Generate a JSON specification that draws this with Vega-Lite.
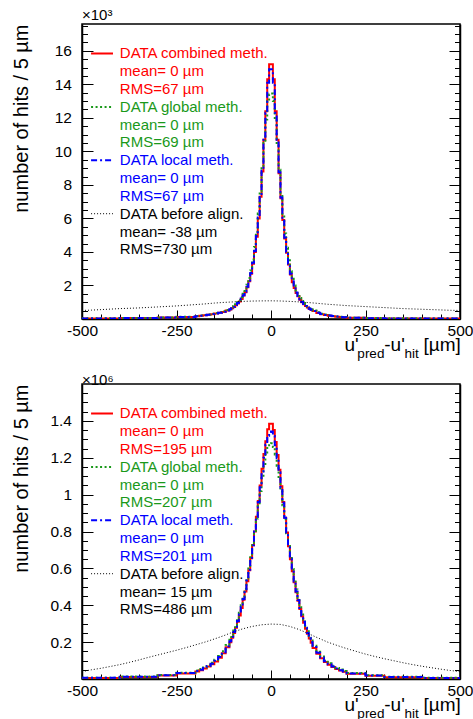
{
  "$schema": "https://vega.github.io/schema/vega-lite/v6.json",
  "background": "white",
  "padding": {"left": 10, "top": 6, "right": 5, "bottom": 5},
  "spacing": 65,
  "bounds": "flush",
  "config": {
    "view": {"stroke": "black", "strokeWidth": 1.5},
    "font": "Liberation Sans",
    "axis": {"grid": false, "domainColor": "black", "domainWidth": 1.5, "tickColor": "black", "tickWidth": 1, "labelColor": "black", "titleColor": "black", "labelFont": "Liberation Sans", "titleFont": "Liberation Sans", "labelFontSize": 15.5, "titleFontWeight": "normal", "labelOverlap": false, "labelFlush": false, "labelBound": false},
    "title": {"font": "Liberation Sans", "fontWeight": "normal", "color": "black"}
  },
  "datasets": {
    "top": [
      {"u":-500,"c":35,"g":38,"l":35},{"u":-400,"c":55,"g":60,"l":56},{"u":-300,"c":85,"g":90,"l":86},{"u":-250,"c":120,"g":130,"l":122},
      {"u":-200,"c":165,"g":180,"l":167},{"u":-190,"c":190,"g":205,"l":192},{"u":-180,"c":220,"g":235,"l":222},{"u":-170,"c":250,"g":270,"l":255},
      {"u":-160,"c":290,"g":310,"l":295},{"u":-150,"c":330,"g":355,"l":335},{"u":-140,"c":370,"g":400,"l":375},{"u":-130,"c":420,"g":460,"l":430},
      {"u":-120,"c":500,"g":540,"l":510},{"u":-110,"c":570,"g":610,"l":580},{"u":-105,"c":640,"g":690,"l":650},{"u":-100,"c":720,"g":780,"l":730},
      {"u":-95,"c":820,"g":880,"l":830},{"u":-90,"c":930,"g":1000,"l":950},{"u":-85,"c":1050,"g":1130,"l":1070},{"u":-80,"c":1200,"g":1300,"l":1220},
      {"u":-75,"c":1400,"g":1500,"l":1420},{"u":-70,"c":1600,"g":1750,"l":1630},{"u":-65,"c":1900,"g":2050,"l":1930},{"u":-60,"c":2250,"g":2450,"l":2300},
      {"u":-55,"c":2700,"g":2900,"l":2750},{"u":-50,"c":3300,"g":3550,"l":3350},{"u":-45,"c":4000,"g":4300,"l":4050},{"u":-40,"c":4900,"g":5200,"l":4950},
      {"u":-35,"c":6000,"g":6300,"l":6050},{"u":-30,"c":7300,"g":7600,"l":7350},{"u":-25,"c":8800,"g":9000,"l":8850},{"u":-20,"c":10700,"g":10500,"l":10700},
      {"u":-15,"c":12400,"g":11900,"l":12300},{"u":-10,"c":14300,"g":13000,"l":14100},{"u":-5,"c":15200,"g":13400,"l":14900},{"u":0,"c":15200,"g":13450,"l":14900},
      {"u":5,"c":14300,"g":13000,"l":14100},{"u":10,"c":12400,"g":11900,"l":12300},{"u":15,"c":10700,"g":10500,"l":10700},{"u":20,"c":8700,"g":8900,"l":8750},
      {"u":25,"c":7200,"g":7500,"l":7250},{"u":30,"c":5900,"g":6200,"l":5950},{"u":35,"c":4800,"g":5100,"l":4850},{"u":40,"c":3950,"g":4250,"l":4000},
      {"u":45,"c":3250,"g":3500,"l":3300},{"u":50,"c":2650,"g":2850,"l":2700},{"u":55,"c":2200,"g":2400,"l":2250},{"u":60,"c":1850,"g":2000,"l":1880},
      {"u":65,"c":1550,"g":1700,"l":1580},{"u":70,"c":1350,"g":1450,"l":1370},{"u":75,"c":1150,"g":1250,"l":1170},{"u":80,"c":1000,"g":1080,"l":1020},
      {"u":85,"c":880,"g":950,"l":900},{"u":90,"c":770,"g":830,"l":780},{"u":95,"c":680,"g":740,"l":690},{"u":100,"c":600,"g":650,"l":610},
      {"u":105,"c":540,"g":580,"l":550},{"u":110,"c":470,"g":510,"l":480},{"u":120,"c":360,"g":400,"l":370},{"u":130,"c":290,"g":320,"l":298},
      {"u":140,"c":240,"g":265,"l":246},{"u":150,"c":200,"g":220,"l":205},{"u":160,"c":170,"g":185,"l":174},{"u":170,"c":140,"g":155,"l":144},
      {"u":180,"c":120,"g":132,"l":123},{"u":190,"c":100,"g":112,"l":103},{"u":200,"c":75,"g":82,"l":77},{"u":250,"c":50,"g":55,"l":51},
      {"u":300,"c":35,"g":38,"l":36},{"u":400,"c":25,"g":27,"l":25},{"u":500,"c":25,"g":27,"l":25}
    ],
    "bot": [
      {"u":-500,"c":6000,"g":7000,"l":6500},{"u":-400,"c":11000,"g":13000,"l":12000},{"u":-300,"c":19000,"g":22000,"l":20000},{"u":-250,"c":30000,"g":34000,"l":32000},
      {"u":-200,"c":41000,"g":46000,"l":43000},{"u":-190,"c":48000,"g":54000,"l":50000},{"u":-180,"c":57000,"g":63000,"l":60000},{"u":-170,"c":68000,"g":75000,"l":71000},
      {"u":-160,"c":80000,"g":88000,"l":83000},{"u":-150,"c":95000,"g":104000,"l":99000},{"u":-140,"c":115000,"g":125000,"l":119000},{"u":-130,"c":140000,"g":151000,"l":145000},
      {"u":-120,"c":172000,"g":184000,"l":177000},{"u":-110,"c":200000,"g":213000,"l":205000},{"u":-105,"c":224000,"g":237000,"l":229000},{"u":-100,"c":250000,"g":263000,"l":255000},
      {"u":-95,"c":278000,"g":292000,"l":283000},{"u":-90,"c":310000,"g":325000,"l":315000},{"u":-85,"c":345000,"g":360000,"l":350000},{"u":-80,"c":385000,"g":400000,"l":390000},
      {"u":-75,"c":430000,"g":445000,"l":434000},{"u":-70,"c":475000,"g":490000,"l":480000},{"u":-65,"c":530000,"g":545000,"l":534000},{"u":-60,"c":590000,"g":600000,"l":593000},
      {"u":-55,"c":655000,"g":660000,"l":657000},{"u":-50,"c":725000,"g":725000,"l":726000},{"u":-45,"c":800000,"g":795000,"l":800000},{"u":-40,"c":880000,"g":870000,"l":878000},
      {"u":-35,"c":965000,"g":945000,"l":960000},{"u":-30,"c":1050000,"g":1020000,"l":1040000},{"u":-25,"c":1140000,"g":1090000,"l":1125000},{"u":-20,"c":1220000,"g":1160000,"l":1200000},
      {"u":-15,"c":1290000,"g":1220000,"l":1270000},{"u":-10,"c":1355000,"g":1260000,"l":1320000},{"u":-5,"c":1385000,"g":1275000,"l":1340000},{"u":0,"c":1385000,"g":1278000,"l":1342000},
      {"u":5,"c":1350000,"g":1258000,"l":1318000},{"u":10,"c":1285000,"g":1218000,"l":1268000},{"u":15,"c":1215000,"g":1157000,"l":1197000},{"u":20,"c":1135000,"g":1088000,"l":1122000},
      {"u":25,"c":1045000,"g":1017000,"l":1037000},{"u":30,"c":960000,"g":942000,"l":956000},{"u":35,"c":875000,"g":866000,"l":874000},{"u":40,"c":795000,"g":791000,"l":796000},
      {"u":45,"c":720000,"g":721000,"l":721000},{"u":50,"c":650000,"g":656000,"l":652000},{"u":55,"c":585000,"g":596000,"l":588000},{"u":60,"c":525000,"g":541000,"l":529000},
      {"u":65,"c":470000,"g":486000,"l":475000},{"u":70,"c":425000,"g":441000,"l":429000},{"u":75,"c":380000,"g":396000,"l":385000},{"u":80,"c":340000,"g":356000,"l":345000},
      {"u":85,"c":305000,"g":321000,"l":310000},{"u":90,"c":273000,"g":288000,"l":278000},{"u":95,"c":245000,"g":259000,"l":250000},{"u":100,"c":219000,"g":233000,"l":224000},
      {"u":105,"c":196000,"g":209000,"l":200000},{"u":110,"c":168000,"g":180000,"l":173000},{"u":120,"c":137000,"g":148000,"l":142000},{"u":130,"c":112000,"g":122000,"l":116000},
      {"u":140,"c":92000,"g":101000,"l":96000},{"u":150,"c":77000,"g":85000,"l":80000},{"u":160,"c":65000,"g":72000,"l":68000},{"u":170,"c":54000,"g":60000,"l":57000},
      {"u":180,"c":46000,"g":51000,"l":48000},{"u":190,"c":39000,"g":44000,"l":41000},{"u":200,"c":28000,"g":32000,"l":30000},{"u":250,"c":18000,"g":21000,"l":19000},
      {"u":300,"c":10000,"g":12000,"l":11000},{"u":400,"c":5500,"g":6500,"l":6000},{"u":500,"c":5500,"g":6500,"l":6000}
    ],
    "topB": [
      {"u":-500,"n":510},{"u":-475,"n":530},{"u":-450,"n":560},{"u":-425,"n":590},{"u":-400,"n":620},{"u":-375,"n":640},{"u":-350,"n":660},
      {"u":-325,"n":690},{"u":-300,"n":720},{"u":-275,"n":750},{"u":-250,"n":780},{"u":-225,"n":820},{"u":-200,"n":860},{"u":-175,"n":900},
      {"u":-150,"n":950},{"u":-125,"n":990},{"u":-100,"n":1020},{"u":-75,"n":1050},{"u":-50,"n":1070},{"u":-25,"n":1080},{"u":0,"n":1085},
      {"u":25,"n":1075},{"u":50,"n":1050},{"u":75,"n":1020},{"u":100,"n":980},{"u":125,"n":930},{"u":150,"n":880},{"u":175,"n":840},
      {"u":200,"n":800},{"u":225,"n":770},{"u":250,"n":740},{"u":275,"n":710},{"u":300,"n":680},{"u":325,"n":650},{"u":350,"n":620},
      {"u":375,"n":600},{"u":400,"n":580},{"u":425,"n":560},{"u":450,"n":540},{"u":475,"n":520},{"u":500,"n":510}
    ],
    "botB": [
      {"u":-500,"n":40000},{"u":-475,"n":50000},{"u":-450,"n":58000},{"u":-425,"n":68000},{"u":-400,"n":78000},{"u":-375,"n":90000},{"u":-350,"n":103000},
      {"u":-325,"n":117000},{"u":-300,"n":130000},{"u":-275,"n":143000},{"u":-250,"n":156000},{"u":-225,"n":170000},{"u":-200,"n":185000},{"u":-175,"n":200000},
      {"u":-150,"n":217000},{"u":-125,"n":235000},{"u":-100,"n":255000},{"u":-75,"n":272000},{"u":-50,"n":285000},{"u":-25,"n":294000},{"u":0,"n":298000},
      {"u":25,"n":296000},{"u":50,"n":285000},{"u":75,"n":268000},{"u":100,"n":245000},{"u":125,"n":222000},{"u":150,"n":200000},{"u":175,"n":182000},
      {"u":200,"n":165000},{"u":225,"n":150000},{"u":250,"n":135000},{"u":275,"n":122000},{"u":300,"n":110000},{"u":325,"n":99000},{"u":350,"n":88000},
      {"u":375,"n":78000},{"u":400,"n":69000},{"u":425,"n":61000},{"u":450,"n":53000},{"u":475,"n":46000},{"u":500,"n":40000}
    ],
    "topL": [
      {"k":0,"s":"c","name":"DATA combined meth.","mean":"0","rms":"67"},
      {"k":1,"s":"g","name":"DATA global meth.","mean":"0","rms":"69"},
      {"k":2,"s":"l","name":"DATA local meth.","mean":"0","rms":"67"},
      {"k":3,"s":"b","name":"DATA before align.","mean":"-38","rms":"730"}
    ],
    "botL": [
      {"k":0,"s":"c","name":"DATA combined meth.","mean":"0","rms":"195"},
      {"k":1,"s":"g","name":"DATA global meth.","mean":"0","rms":"207"},
      {"k":2,"s":"l","name":"DATA local meth.","mean":"0","rms":"201"},
      {"k":3,"s":"b","name":"DATA before align.","mean":"15","rms":"486"}
    ]
  },
  "vconcat": [
    {
      "width": 378, "height": 295,
      "title": {"text": "×10³", "anchor": "start", "frame": "group", "offset": -4, "fontSize": 15},
      "resolve": {"scale": {"y": "independent"}, "axis": {"x": "independent"}},
      "layer": [
        {
          "data": {"name": "top"},
          "transform": [{"fold": ["c", "g", "l"], "as": ["s", "n"]}],
          "mark": {"type": "line", "interpolate": "step-after", "strokeWidth": 2, "clip": true},
          "encoding": {
            "x": {"field": "u", "type": "quantitative", "scale": {"domain": [-500, 500], "nice": false, "zero": false},
              "axis": {"title": null, "values": [-500,-450,-400,-350,-300,-250,-200,-150,-100,-50,0,50,100,150,200,250,300,350,400,450,500],
                "labelExpr": "datum.value % 250 === 0 ? '' + datum.value : ''",
                "tickSize": {"expr": "datum.value % 250 === 0 ? -9 : -5"}, "labelPadding": 13}},
            "y": {"field": "n", "type": "quantitative", "scale": {"domain": [0, 17600], "nice": false, "zero": false},
              "axis": {"title": "number of hits / 5 µm", "titleFontSize": 20, "titleAnchor": "end", "titlePadding": 22.6,
                "values": [500,1000,1500,2000,2500,3000,3500,4000,4500,5000,5500,6000,6500,7000,7500,8000,8500,9000,9500,10000,10500,11000,11500,12000,12500,13000,13500,14000,14500,15000,15500,16000,16500,17000,17500],
                "labelExpr": "datum.value % 2000 === 0 ? format(datum.value / 1000, 'd') : ''",
                "tickSize": {"expr": "datum.value % 2000 === 0 ? -11 : -5.5"}, "labelPadding": 21.5}},
            "color": {"field": "s", "type": "nominal", "scale": {"domain": ["c", "g", "l", "b"], "range": ["#ff0000", "#1a991a", "#0000ff", "#000000"]}, "legend": null},
            "strokeDash": {"field": "s", "type": "nominal", "scale": {"domain": ["c", "g", "l", "b"], "range": [[1, 0], [2, 2.5], [6, 3, 2, 3], [1, 2]]}, "legend": null}
          }
        },
        {
          "data": {"name": "topB"},
          "mark": {"type": "line", "strokeWidth": 1, "strokeDash": [1, 2], "color": "black", "clip": true},
          "encoding": {
            "x": {"field": "u", "type": "quantitative", "scale": {"domain": [-500, 500], "nice": false, "zero": false}, "axis": null},
            "y": {"field": "n", "type": "quantitative", "scale": {"domain": [0, 17600], "nice": false, "zero": false},
              "axis": {"orient": "right", "title": null, "labels": false,
                "values": [500,1000,1500,2000,2500,3000,3500,4000,4500,5000,5500,6000,6500,7000,7500,8000,8500,9000,9500,10000,10500,11000,11500,12000,12500,13000,13500,14000,14500,15000,15500,16000,16500,17000,17500],
                "tickSize": {"expr": "datum.value % 2000 === 0 ? -11 : -5.5"}}}
          }
        },
        {
          "data": {"name": "topL"},
          "mark": {"type": "rule", "yOffset": -5},
          "encoding": {
            "x": {"datum": -476, "scale": {"domain": [-500, 500], "nice": false, "zero": false}, "axis": null},
            "x2": {"datum": -418},
            "y": {"field": "k", "type": "quantitative", "scale": {"domain": [-0.646, 4.878], "reverse": true, "nice": false, "zero": false}, "axis": null},
            "color": {"field": "s", "type": "nominal", "scale": {"domain": ["c", "g", "l", "b"], "range": ["#ff0000", "#1a991a", "#0000ff", "#000000"]}, "legend": null},
            "strokeDash": {"field": "s", "type": "nominal", "scale": {"domain": ["c", "g", "l", "b"], "range": [[1, 0], [2, 2.5], [6, 3, 2, 3], [1, 2]]}, "legend": null},
            "strokeWidth": {"condition": {"test": "datum.s === 'b'", "value": 1}, "value": 2}
          }
        },
        {
          "data": {"name": "topL"},
          "transform": [{"calculate": "datum.name + '\\n' + 'mean= ' + datum.mean + ' µm' + '\\n' + 'RMS=' + datum.rms + ' µm'", "as": "lbl"}],
          "mark": {"type": "text", "align": "left", "baseline": "alphabetic", "fontSize": 15, "lineHeight": 17.8, "lineBreak": "\n", "font": "Liberation Sans"},
          "encoding": {
            "x": {"datum": -400, "scale": {"domain": [-500, 500], "nice": false, "zero": false}, "axis": null},
            "y": {"field": "k", "type": "quantitative", "scale": {"domain": [-0.646, 4.878], "reverse": true, "nice": false, "zero": false}, "axis": null},
            "text": {"field": "lbl"},
            "color": {"field": "s", "type": "nominal", "scale": {"domain": ["c", "g", "l", "b"], "range": ["#ff0000", "#1a991a", "#0000ff", "#000000"]}, "legend": null}
          }
        },
        {
          "data": {"values": [{}]},
          "mark": {"type": "text", "align": "right", "baseline": "alphabetic", "fontSize": 19, "text": "u'", "color": "black"},
          "encoding": {
            "x": {"datum": 232, "scale": {"domain": [-500, 500], "nice": false, "zero": false}, "axis": null},
            "y": {"datum": -1909, "scale": {"domain": [0, 17600], "nice": false, "zero": false}, "axis": null}
          }
        },
        {
          "data": {"values": [{}]},
          "mark": {"type": "text", "align": "right", "baseline": "alphabetic", "fontSize": 13.5, "text": "pred", "color": "black"},
          "encoding": {
            "x": {"datum": 300, "scale": {"domain": [-500, 500], "nice": false, "zero": false}, "axis": null},
            "y": {"datum": -2309, "scale": {"domain": [0, 17600], "nice": false, "zero": false}, "axis": null}
          }
        },
        {
          "data": {"values": [{}]},
          "mark": {"type": "text", "align": "right", "baseline": "alphabetic", "fontSize": 19, "text": "-u'", "color": "black"},
          "encoding": {
            "x": {"datum": 354, "scale": {"domain": [-500, 500], "nice": false, "zero": false}, "axis": null},
            "y": {"datum": -1909, "scale": {"domain": [0, 17600], "nice": false, "zero": false}, "axis": null}
          }
        },
        {
          "data": {"values": [{}]},
          "mark": {"type": "text", "align": "right", "baseline": "alphabetic", "fontSize": 13.5, "text": "hit", "color": "black"},
          "encoding": {
            "x": {"datum": 391, "scale": {"domain": [-500, 500], "nice": false, "zero": false}, "axis": null},
            "y": {"datum": -2309, "scale": {"domain": [0, 17600], "nice": false, "zero": false}, "axis": null}
          }
        },
        {
          "data": {"values": [{}]},
          "mark": {"type": "text", "align": "right", "baseline": "alphabetic", "fontSize": 19, "text": "[µm]", "color": "black"},
          "encoding": {
            "x": {"datum": 502, "scale": {"domain": [-500, 500], "nice": false, "zero": false}, "axis": null},
            "y": {"datum": -1909, "scale": {"domain": [0, 17600], "nice": false, "zero": false}, "axis": null}
          }
        }
      ]
    },
    {
      "width": 378, "height": 295,
      "title": {"text": "×10⁶", "anchor": "start", "frame": "group", "offset": -4, "fontSize": 15},
      "resolve": {"scale": {"y": "independent"}, "axis": {"x": "independent"}},
      "layer": [
        {
          "data": {"name": "bot"},
          "transform": [{"fold": ["c", "g", "l"], "as": ["s", "n"]}],
          "mark": {"type": "line", "interpolate": "step-after", "strokeWidth": 2, "clip": true},
          "encoding": {
            "x": {"field": "u", "type": "quantitative", "scale": {"domain": [-500, 500], "nice": false, "zero": false},
              "axis": {"title": null, "values": [-500,-450,-400,-350,-300,-250,-200,-150,-100,-50,0,50,100,150,200,250,300,350,400,450,500],
                "labelExpr": "datum.value % 250 === 0 ? '' + datum.value : ''",
                "tickSize": {"expr": "datum.value % 250 === 0 ? -9 : -5"}, "labelPadding": 13}},
            "y": {"field": "n", "type": "quantitative", "scale": {"domain": [0, 1600000], "nice": false, "zero": false},
              "axis": {"title": "number of hits / 5 µm", "titleFontSize": 20, "titleAnchor": "end", "titlePadding": 18.5,
                "values": [50000,100000,150000,200000,250000,300000,350000,400000,450000,500000,550000,600000,650000,700000,750000,800000,850000,900000,950000,1000000,1050000,1100000,1150000,1200000,1250000,1300000,1350000,1400000,1450000,1500000,1550000],
                "labelExpr": "datum.value % 200000 === 0 ? format(datum.value / 1000000, '.1~f') : ''",
                "tickSize": {"expr": "datum.value % 200000 === 0 ? -11 : -5.5"}, "labelPadding": 21.5}},
            "color": {"field": "s", "type": "nominal", "scale": {"domain": ["c", "g", "l", "b"], "range": ["#ff0000", "#1a991a", "#0000ff", "#000000"]}, "legend": null},
            "strokeDash": {"field": "s", "type": "nominal", "scale": {"domain": ["c", "g", "l", "b"], "range": [[1, 0], [2, 2.5], [6, 3, 2, 3], [1, 2]]}, "legend": null}
          }
        },
        {
          "data": {"name": "botB"},
          "mark": {"type": "line", "strokeWidth": 1, "strokeDash": [1, 2], "color": "black", "clip": true},
          "encoding": {
            "x": {"field": "u", "type": "quantitative", "scale": {"domain": [-500, 500], "nice": false, "zero": false}, "axis": null},
            "y": {"field": "n", "type": "quantitative", "scale": {"domain": [0, 1600000], "nice": false, "zero": false},
              "axis": {"orient": "right", "title": null, "labels": false,
                "values": [50000,100000,150000,200000,250000,300000,350000,400000,450000,500000,550000,600000,650000,700000,750000,800000,850000,900000,950000,1000000,1050000,1100000,1150000,1200000,1250000,1300000,1350000,1400000,1450000,1500000,1550000],
                "tickSize": {"expr": "datum.value % 200000 === 0 ? -11 : -5.5"}}}
          }
        },
        {
          "data": {"name": "botL"},
          "mark": {"type": "rule", "yOffset": -5},
          "encoding": {
            "x": {"datum": -476, "scale": {"domain": [-500, 500], "nice": false, "zero": false}, "axis": null},
            "x2": {"datum": -418},
            "y": {"field": "k", "type": "quantitative", "scale": {"domain": [-0.646, 4.878], "reverse": true, "nice": false, "zero": false}, "axis": null},
            "color": {"field": "s", "type": "nominal", "scale": {"domain": ["c", "g", "l", "b"], "range": ["#ff0000", "#1a991a", "#0000ff", "#000000"]}, "legend": null},
            "strokeDash": {"field": "s", "type": "nominal", "scale": {"domain": ["c", "g", "l", "b"], "range": [[1, 0], [2, 2.5], [6, 3, 2, 3], [1, 2]]}, "legend": null},
            "strokeWidth": {"condition": {"test": "datum.s === 'b'", "value": 1}, "value": 2}
          }
        },
        {
          "data": {"name": "botL"},
          "transform": [{"calculate": "datum.name + '\\n' + 'mean= ' + datum.mean + ' µm' + '\\n' + 'RMS=' + datum.rms + ' µm'", "as": "lbl"}],
          "mark": {"type": "text", "align": "left", "baseline": "alphabetic", "fontSize": 15, "lineHeight": 17.8, "lineBreak": "\n", "font": "Liberation Sans"},
          "encoding": {
            "x": {"datum": -400, "scale": {"domain": [-500, 500], "nice": false, "zero": false}, "axis": null},
            "y": {"field": "k", "type": "quantitative", "scale": {"domain": [-0.646, 4.878], "reverse": true, "nice": false, "zero": false}, "axis": null},
            "text": {"field": "lbl"},
            "color": {"field": "s", "type": "nominal", "scale": {"domain": ["c", "g", "l", "b"], "range": ["#ff0000", "#1a991a", "#0000ff", "#000000"]}, "legend": null}
          }
        },
        {
          "data": {"values": [{}]},
          "mark": {"type": "text", "align": "right", "baseline": "alphabetic", "fontSize": 19, "text": "u'", "color": "black"},
          "encoding": {
            "x": {"datum": 232, "scale": {"domain": [-500, 500], "nice": false, "zero": false}, "axis": null},
            "y": {"datum": -173600, "scale": {"domain": [0, 1600000], "nice": false, "zero": false}, "axis": null}
          }
        },
        {
          "data": {"values": [{}]},
          "mark": {"type": "text", "align": "right", "baseline": "alphabetic", "fontSize": 13.5, "text": "pred", "color": "black"},
          "encoding": {
            "x": {"datum": 300, "scale": {"domain": [-500, 500], "nice": false, "zero": false}, "axis": null},
            "y": {"datum": -209900, "scale": {"domain": [0, 1600000], "nice": false, "zero": false}, "axis": null}
          }
        },
        {
          "data": {"values": [{}]},
          "mark": {"type": "text", "align": "right", "baseline": "alphabetic", "fontSize": 19, "text": "-u'", "color": "black"},
          "encoding": {
            "x": {"datum": 354, "scale": {"domain": [-500, 500], "nice": false, "zero": false}, "axis": null},
            "y": {"datum": -173600, "scale": {"domain": [0, 1600000], "nice": false, "zero": false}, "axis": null}
          }
        },
        {
          "data": {"values": [{}]},
          "mark": {"type": "text", "align": "right", "baseline": "alphabetic", "fontSize": 13.5, "text": "hit", "color": "black"},
          "encoding": {
            "x": {"datum": 391, "scale": {"domain": [-500, 500], "nice": false, "zero": false}, "axis": null},
            "y": {"datum": -209900, "scale": {"domain": [0, 1600000], "nice": false, "zero": false}, "axis": null}
          }
        },
        {
          "data": {"values": [{}]},
          "mark": {"type": "text", "align": "right", "baseline": "alphabetic", "fontSize": 19, "text": "[µm]", "color": "black"},
          "encoding": {
            "x": {"datum": 502, "scale": {"domain": [-500, 500], "nice": false, "zero": false}, "axis": null},
            "y": {"datum": -173600, "scale": {"domain": [0, 1600000], "nice": false, "zero": false}, "axis": null}
          }
        }
      ]
    }
  ]
}
